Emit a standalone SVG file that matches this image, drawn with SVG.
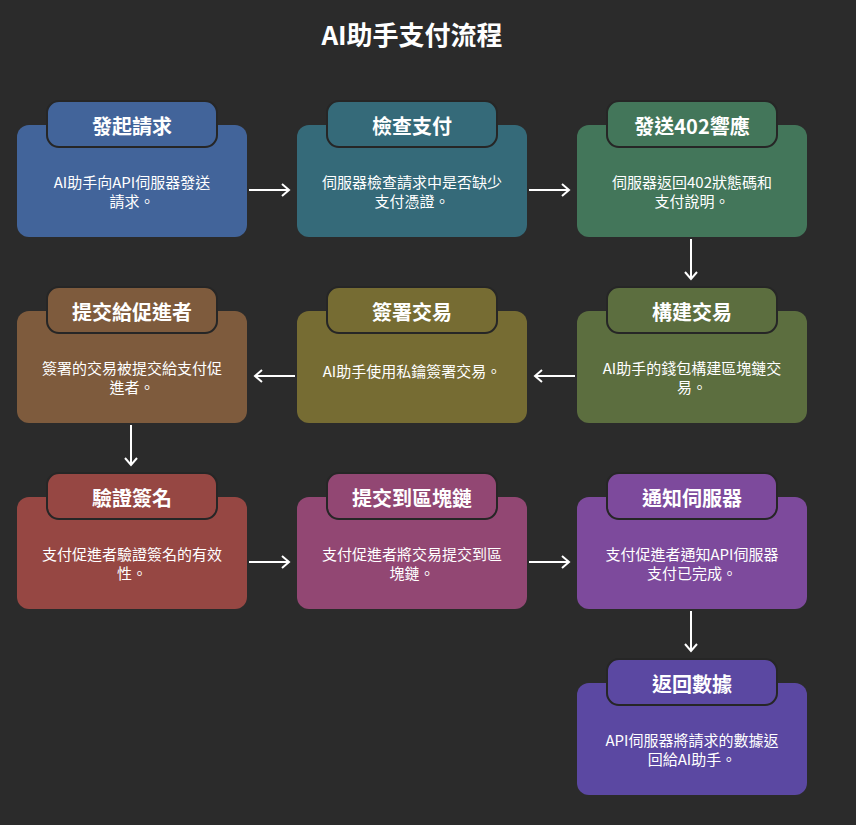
<svg xmlns="http://www.w3.org/2000/svg" width="856" height="825" viewBox="0 0 856 825">
<defs>
<style>
.card{stroke:none}
.tab{stroke:#262626;stroke-width:2}
.ttl{font-family:"Noto Sans CJK TC","Noto Sans CJK SC",sans-serif;font-weight:bold;font-size:20px;fill:#ffffff;text-anchor:middle}
.body{font-family:"Noto Sans CJK TC","Noto Sans CJK SC",sans-serif;font-size:15px;fill:#ffffff;text-anchor:middle}
.conn{stroke:#ffffff;stroke-width:2;fill:none}
</style>
<marker id="ah" markerUnits="userSpaceOnUse" markerWidth="14" markerHeight="16" refX="8" refY="7" orient="auto" viewBox="0 0 14 16">
<path d="M1,1 L8,7 L1,13" fill="none" stroke="#ffffff" stroke-width="2"/>
</marker>
</defs>
<rect width="856" height="825" fill="#2b2b2b"/>
<text x="412" y="45" font-family="'Noto Sans CJK TC','Noto Sans CJK SC',sans-serif" font-weight="bold" font-size="26" fill="#ffffff" text-anchor="middle">AI助手支付流程</text>

<g id="connectors">
<line class="conn" x1="249" y1="190" x2="289" y2="190" marker-end="url(#ah)"/>
<line class="conn" x1="529" y1="190" x2="569" y2="190" marker-end="url(#ah)"/>
<line class="conn" x1="691" y1="239" x2="691" y2="279" marker-end="url(#ah)"/>
<line class="conn" x1="575" y1="376" x2="535" y2="376" marker-end="url(#ah)"/>
<line class="conn" x1="295" y1="376" x2="255" y2="376" marker-end="url(#ah)"/>
<line class="conn" x1="131" y1="425" x2="131" y2="465" marker-end="url(#ah)"/>
<line class="conn" x1="249" y1="562" x2="289" y2="562" marker-end="url(#ah)"/>
<line class="conn" x1="529" y1="562" x2="569" y2="562" marker-end="url(#ah)"/>
<line class="conn" x1="691" y1="611" x2="691" y2="651" marker-end="url(#ah)"/>
</g>

<g id="n1">
<rect class="card" x="17" y="125" width="230" height="112" rx="12" fill="#42649a"/>
<rect class="tab" x="47" y="101" width="170" height="46" rx="12" fill="#42649a"/>
<text class="ttl" x="132" y="134">發起請求</text>
<text class="body" x="132" y="188">AI助手向API伺服器發送</text>
<text class="body" x="132" y="207">請求。</text>
</g>
<g id="n2">
<rect class="card" x="297" y="125" width="230" height="112" rx="12" fill="#356a79"/>
<rect class="tab" x="327" y="101" width="170" height="46" rx="12" fill="#356a79"/>
<text class="ttl" x="412" y="134">檢查支付</text>
<text class="body" x="412" y="188">伺服器檢查請求中是否缺少</text>
<text class="body" x="412" y="207">支付憑證。</text>
</g>
<g id="n3">
<rect class="card" x="577" y="125" width="230" height="112" rx="12" fill="#43765a"/>
<rect class="tab" x="607" y="101" width="170" height="46" rx="12" fill="#43765a"/>
<text class="ttl" x="692" y="134">發送402響應</text>
<text class="body" x="692" y="188">伺服器返回402狀態碼和</text>
<text class="body" x="692" y="207">支付說明。</text>
</g>
<g id="n4">
<rect class="card" x="577" y="311" width="230" height="112" rx="12" fill="#5c6e3f"/>
<rect class="tab" x="607" y="287" width="170" height="46" rx="12" fill="#5c6e3f"/>
<text class="ttl" x="692" y="320">構建交易</text>
<text class="body" x="692" y="374">AI助手的錢包構建區塊鏈交</text>
<text class="body" x="692" y="393">易。</text>
</g>
<g id="n5">
<rect class="card" x="297" y="311" width="230" height="112" rx="12" fill="#766c33"/>
<rect class="tab" x="327" y="287" width="170" height="46" rx="12" fill="#766c33"/>
<text class="ttl" x="412" y="320">簽署交易</text>
<text class="body" x="412" y="377">AI助手使用私鑰簽署交易。</text>
</g>
<g id="n6">
<rect class="card" x="17" y="311" width="230" height="112" rx="12" fill="#7e5b3d"/>
<rect class="tab" x="47" y="287" width="170" height="46" rx="12" fill="#7e5b3d"/>
<text class="ttl" x="132" y="320">提交給促進者</text>
<text class="body" x="132" y="374">簽署的交易被提交給支付促</text>
<text class="body" x="132" y="393">進者。</text>
</g>
<g id="n7">
<rect class="card" x="17" y="497" width="230" height="112" rx="12" fill="#964743"/>
<rect class="tab" x="47" y="473" width="170" height="46" rx="12" fill="#964743"/>
<text class="ttl" x="132" y="506">驗證簽名</text>
<text class="body" x="132" y="560">支付促進者驗證簽名的有效</text>
<text class="body" x="132" y="579">性。</text>
</g>
<g id="n8">
<rect class="card" x="297" y="497" width="230" height="112" rx="12" fill="#924773"/>
<rect class="tab" x="327" y="473" width="170" height="46" rx="12" fill="#924773"/>
<text class="ttl" x="412" y="506">提交到區塊鏈</text>
<text class="body" x="412" y="560">支付促進者將交易提交到區</text>
<text class="body" x="412" y="579">塊鏈。</text>
</g>
<g id="n9">
<rect class="card" x="577" y="497" width="230" height="112" rx="12" fill="#7d4a9c"/>
<rect class="tab" x="607" y="473" width="170" height="46" rx="12" fill="#7d4a9c"/>
<text class="ttl" x="692" y="506">通知伺服器</text>
<text class="body" x="692" y="560">支付促進者通知API伺服器</text>
<text class="body" x="692" y="579">支付已完成。</text>
</g>
<g id="n10">
<rect class="card" x="577" y="683" width="230" height="112" rx="12" fill="#5b48a2"/>
<rect class="tab" x="607" y="659" width="170" height="46" rx="12" fill="#5b48a2"/>
<text class="ttl" x="692" y="692">返回數據</text>
<text class="body" x="692" y="746">API伺服器將請求的數據返</text>
<text class="body" x="692" y="765">回給AI助手。</text>
</g>
</svg>
